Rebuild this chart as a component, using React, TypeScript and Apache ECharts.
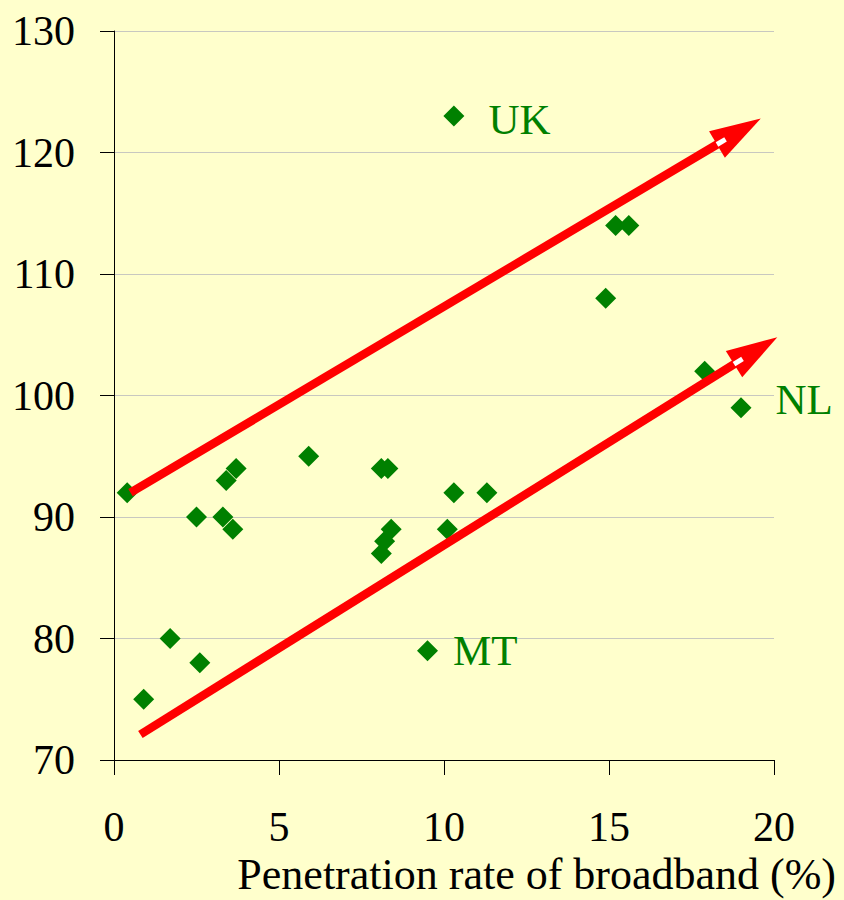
import React, { useEffect, useRef } from "react";
import * as echarts from "echarts";

// Broadband penetration (%) vs index
const penetration = [0.4, 0.9, 1.7, 2.5, 2.6, 3.3, 3.4, 3.6, 3.7, 5.9, 8.1, 8.3, 8.1, 8.2, 8.4, 9.5, 10.1, 10.3, 10.3, 11.3, 14.9, 15.2, 15.6, 17.9, 19.0];
const indexValues = [92, 75, 80, 90, 78, 90, 93, 89, 94, 95, 94, 94, 87, 88, 89, 79, 89, 92, 123, 92, 108, 114, 114, 102, 99];
const pointLabels: Record<number, string> = { 18: "UK", 24: "NL", 15: "MT" };

const xTicks = { min: 0, max: 20, interval: 5 };
const yTicks = { min: 70, max: 130, interval: 10 };

// Trend arrows: [startX, startY, tipX, tipY]
const upperArrow = [0.5, 92.0, 19.6, 122.8];
const lowerArrow = [0.8, 72.1, 20.1, 104.8];

const xAxisTitle = "Penetration rate of broadband (%)";

const FONT = '"Liberation Serif", "Times New Roman", serif';

export default function App() {
  const ref = useRef<HTMLDivElement>(null);
  useEffect(() => {
    if (!ref.current) return;
    const chart = echarts.init(ref.current, null, { renderer: "svg" });
    const data = penetration.map((x, i) => {
      const item: any = { value: [x, indexValues[i]] };
      const lbl = pointLabels[i];
      if (lbl) {
        item.label = {
          show: true,
          formatter: lbl,
          position: "right",
          distance: lbl === "MT" ? 15 : 24,
          offset: lbl === "NL" ? [0, -8] : lbl === "UK" ? [0, 3] : [0, 0],
          color: "#008000",
          fontSize: 43,
          fontFamily: FONT,
        };
      }
      return item;
    });
    const HEAD_L = 51;
    const HEAD_W = 15.5;
    chart.setOption({
      animation: false,
      backgroundColor: "#FFFFCC",
      grid: { left: 114, right: 70, top: 31, bottom: 140, containLabel: false },
      xAxis: {
        type: "value",
        min: xTicks.min,
        max: xTicks.max,
        interval: xTicks.interval,
        axisLine: { show: true, lineStyle: { color: "#000", width: 1 } },
        axisTick: { show: true, inside: false, length: 15, lineStyle: { color: "#000" } },
        splitLine: { show: false },
        axisLabel: { color: "#000", fontSize: 42, fontFamily: FONT, margin: 46 },
      },
      yAxis: {
        type: "value",
        min: yTicks.min,
        max: yTicks.max,
        interval: yTicks.interval,
        axisLine: { show: true, lineStyle: { color: "#000", width: 1 } },
        axisTick: { show: true, inside: false, length: 14, lineStyle: { color: "#000" } },
        splitLine: { show: true, lineStyle: { color: "#c8c8c0", width: 1 } },
        axisLabel: { color: "#000", fontSize: 42, fontFamily: FONT, margin: 39 },
      },
      graphic: [
        {
          type: "text",
          right: 8,
          top: 852,
          style: { text: xAxisTitle, fill: "#000", font: `44px ${FONT}` },
        },
      ],
      series: [
        {
          type: "scatter",
          symbol: "diamond",
          symbolSize: 21,
          itemStyle: { color: "#008000", opacity: 1 },
          data,
          clip: false,
          z: 3,
        },
        {
          type: "custom",
          coordinateSystem: "cartesian2d",
          clip: false,
          silent: true,
          z: 4,
          encode: { x: [0, 2], y: [1, 3] },
          data: [upperArrow, lowerArrow],
          renderItem: (params: any, api: any) => {
            const p0 = api.coord([api.value(0), api.value(1)]);
            const p1 = api.coord([api.value(2), api.value(3)]);
            const dx = p1[0] - p0[0];
            const dy = p1[1] - p0[1];
            const len = Math.sqrt(dx * dx + dy * dy);
            const ux = dx / len;
            const uy = dy / len;
            const nx = -uy;
            const ny = ux;
            const bx = p1[0] - ux * HEAD_L;
            const by = p1[1] - uy * HEAD_L;
            const cx = bx + ux * 5;
            const cy = by + uy * 5;
            const a = 5;
            const b = 2.5;
            return {
              type: "group",
              children: [
                {
                  type: "line",
                  shape: { x1: p0[0], y1: p0[1], x2: bx + ux * 4, y2: by + uy * 4 },
                  style: { stroke: "#FF0000", lineWidth: 8.5, lineCap: "butt" },
                },
                {
                  type: "polygon",
                  shape: {
                    points: [
                      [p1[0], p1[1]],
                      [bx + nx * HEAD_W, by + ny * HEAD_W],
                      [bx - nx * HEAD_W, by - ny * HEAD_W],
                    ],
                  },
                  style: { fill: "#FF0000" },
                },
                {
                  type: "polygon",
                  shape: {
                    points: [
                      [cx + ux * a + nx * b, cy + uy * a + ny * b],
                      [cx + ux * a - nx * b, cy + uy * a - ny * b],
                      [cx - ux * a - nx * b, cy - uy * a - ny * b],
                      [cx - ux * a + nx * b, cy - uy * a + ny * b],
                    ],
                  },
                  style: { fill: "#FFFFFF" },
                },
              ],
            };
          },
        },
      ],
    });
    return () => chart.dispose();
  }, []);
  return (
    <div
      ref={ref}
      style={{ position: "fixed", left: 0, top: 0, width: 844, height: 900 }}
    />
  );
}
